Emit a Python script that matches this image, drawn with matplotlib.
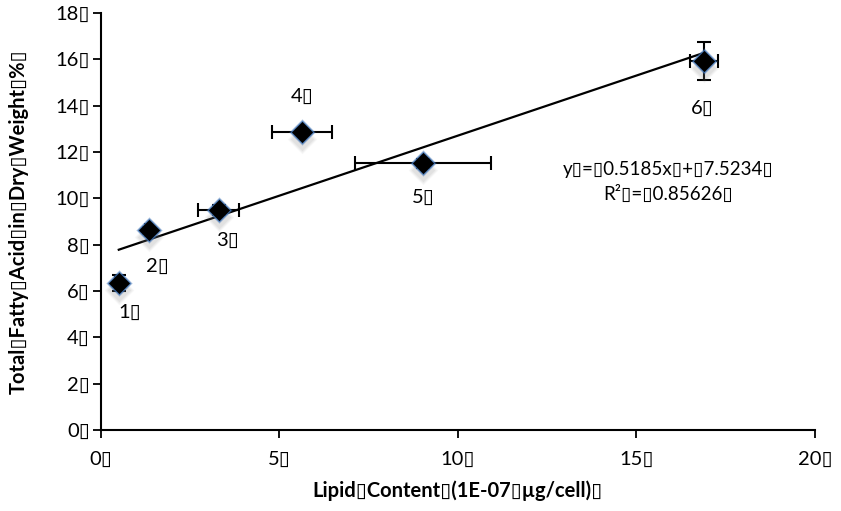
import matplotlib
matplotlib.use("Agg")
import matplotlib.pyplot as plt
import numpy as np

plt.rcParams['font.family'] = ['Lato', 'DejaVu Sans']

# Lipid content (1E-07 ug/cell) vs total fatty acid (% dry weight)
lipid = [0.50, 1.34, 3.30, 5.63, 9.02, 16.89]
lipid_err = [0.10, 0.10, 0.57, 0.83, 1.90, 0.40]
tfa = [6.34, 8.63, 9.50, 12.86, 11.52, 15.93]
tfa_err = [0.35, 0.15, 0.20, 0.10, 0.20, 0.82]
point_labels = ["1", "2", "3", "4", "5", "6"]
label_offsets = [(0.3, -1.25), (0.25, -1.55), (0.25, -1.3), (0.0, 1.55), (0.0, -1.5), (-0.05, -2.05)]

slope, intercept, r2 = 0.5185, 7.5234, 0.85626

x_ticks = [0, 5, 10, 15, 20]
y_ticks = [0, 2, 4, 6, 8, 10, 12, 14, 16, 18]

BOX = "\u25AF"

fig = plt.figure(figsize=(8.41, 5.11), dpi=100)
ax = fig.add_axes([0.120, 0.1585, 0.849, 0.816])

# error bars
ax.errorbar(lipid, tfa, xerr=lipid_err, yerr=tfa_err, fmt='none',
            ecolor='black', elinewidth=1.5, capsize=5, capthick=1.5, zorder=2)

# trend line from the fitted equation
xl = np.array([min(lipid), max(lipid)])
ax.plot(xl, slope * xl + intercept, color='black', lw=1.6, zorder=3)

# soft shadow beneath the diamond markers
for s, a in [(15, 0.06), (13.5, 0.08), (12, 0.10)]:
    ax.scatter(lipid, np.array(tfa) - 0.3, marker='D', s=s**2, color='#7f7f7f',
               alpha=a, linewidths=0, zorder=4)
# blue glow around them
for s, a in [(13.5, 0.35), (12.3, 0.85)]:
    ax.scatter(lipid, tfa, marker='D', s=s**2, color='#3f72b4', alpha=a,
               linewidths=0, zorder=5)
ax.scatter(lipid, tfa, marker='D', s=10.8**2, color='black', linewidths=0, zorder=6)

for x, y, lab, (dx, dy) in zip(lipid, tfa, point_labels, label_offsets):
    ax.text(x + dx, y + dy, lab + BOX, ha='center', va='center', fontsize=14.5)

ax.text(15.9, 11.24, f"y{BOX}={BOX}0.5185x{BOX}+{BOX}7.5234{BOX}",
        ha='center', va='center', fontsize=13.5)
ax.text(15.9, 10.2, f"R\u00b2{BOX}={BOX}0.85626{BOX}",
        ha='center', va='center', fontsize=13.5)

ax.set_xlim(0, 20)
ax.set_ylim(0, 18)
ax.set_xticks(x_ticks)
ax.set_xticklabels([f"{t}{BOX}" for t in x_ticks], fontsize=14.5)
ax.set_yticks(y_ticks)
ax.set_yticklabels([f"{t}{BOX}" for t in y_ticks], fontsize=14.5)
ax.tick_params(direction='out', length=6, width=1.3, pad=9)
ax.tick_params(axis='y', pad=2)

for side in ['top', 'right']:
    ax.spines[side].set_visible(False)
for side in ['left', 'bottom']:
    ax.spines[side].set_linewidth(1.5)

ax.set_xlabel(f"Lipid{BOX}Content{BOX}(1E-07{BOX}\u00b5g/cell){BOX}",
              fontsize=14.5, fontweight='bold', labelpad=9)
ax.set_ylabel(f"Total{BOX}Fatty{BOX}Acid{BOX}in{BOX}Dry{BOX}Weight{BOX}%{BOX}",
              fontsize=14.5, fontweight='bold', labelpad=6)
ax.yaxis.set_label_coords(-0.101, 0.5)

fig.savefig("out.png", dpi=100)
